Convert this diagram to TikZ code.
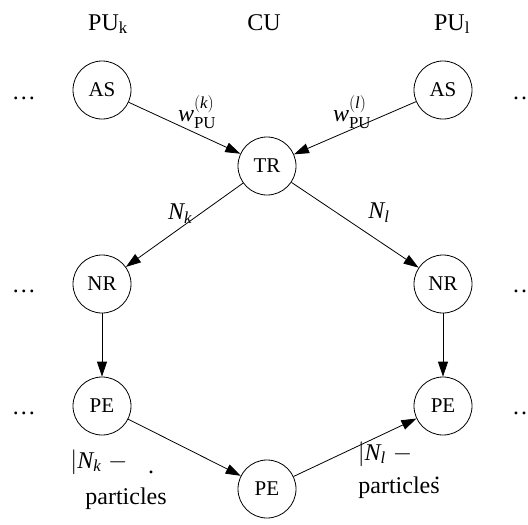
\documentclass[tikz,border=0pt]{standalone}
\usepackage{amsmath}
\usepackage{fontspec}
\setmainfont{Liberation Serif}
\usetikzlibrary{arrows.meta,positioning}

\begin{document}
\begin{tikzpicture}[
    x=1pt, y=-1pt,
    unit/.style={circle, draw, line width=0.8pt, minimum size=58pt, inner sep=0pt, font=\fontsize{21}{25}\selectfont},
    lbl/.style={inner sep=0pt, font=\fontsize{24}{28}\selectfont},
    arrow/.style={-{Triangle[length=15pt, width=10pt]}, line width=0.8pt}
]
    \useasboundingbox (0,0) rectangle (528,525);

    % processing units k and l, central unit in between
    \node[unit] (ask) at (102,90) {AS};
    \node[unit, on grid, right=341pt of ask] (asl) {AS};
    \node[unit, on grid, below right=76pt and 165pt of ask] (tr) {TR};
    \node[unit, on grid, below=194pt of ask] (nrk) {NR};
    \node[unit, on grid, below=194pt of asl] (nrl) {NR};
    \node[unit, on grid, below=122pt of nrk] (pek) {PE};
    \node[unit, on grid, below=122pt of nrl] (pel) {PE};
    \node[unit, on grid, below=323pt of tr] (pec) {PE};

    % column titles
    \node[lbl, anchor=base] (puk) at (108,30) {PU\textsubscript{k}};
    \node[lbl, anchor=base] (cu) at (264,30) {CU};
    \node[lbl, anchor=base] (pul) at (452,30) {PU\textsubscript{l}};

    % further units on both sides
    \node[lbl, anchor=base] (morek1) at (24,99) {\dots};
    \node[lbl, anchor=base] (morek2) at (24,292) {\dots};
    \node[lbl, anchor=base] (morek3) at (24,414) {\dots};
    \node[lbl, anchor=base] (morel1) at (524,99) {\dots};
    \node[lbl, anchor=base] (morel2) at (524,292) {\dots};
    \node[lbl, anchor=base] (morel3) at (524,414) {\dots};

    \draw[arrow] (ask) -- (tr);
    \draw[arrow] (asl) -- (tr);
    \draw[arrow] (tr) -- (nrk);
    \draw[arrow] (tr) -- (nrl);
    \draw[arrow] (nrk) -- (pek);
    \draw[arrow] (nrl) -- (pel);
    \draw[arrow] (pek) -- (pec);
    \draw[arrow] (pec) -- (pel);

    % edge labels
    \node[lbl] (wk) at (197,112) {$\textit{w}^{(\textit{k})}_{\textrm{PU}}$};
    \node[lbl] (wl) at (352,112) {$\textit{w}^{(\textit{l})}_{\textrm{PU}}$};
    \node[lbl] (nk) at (180,214) {$\textit{N}_{\textit{k}}$};
    \node[lbl] (nl) at (379,213) {$\textit{N}_{\textit{l}}$};

    \node[lbl, anchor=base] (sendk) at (99,468) {$|\textit{N}_{\textit{k}}\;-$};
    \node[lbl] (stopk) at (151,472) {.};
    \node[lbl, anchor=base] (partk) at (126,504) {particles};
    \node[lbl, anchor=base] (sendl) at (385,460) {$|\textit{N}_{\textit{l}}\;-$};
    \node[lbl] (stopl) at (437,478) {.};
    \node[lbl, anchor=base] (partl) at (399,493) {particles};
\end{tikzpicture}
\end{document}
